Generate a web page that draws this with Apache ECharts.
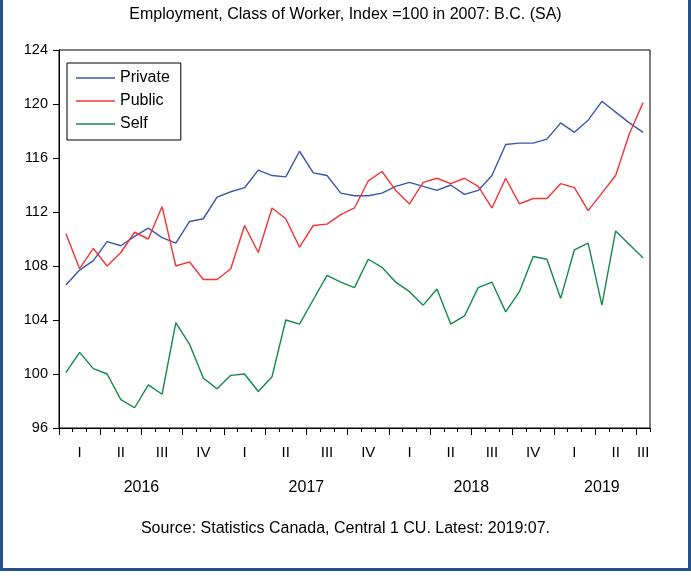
<!DOCTYPE html>
<html>
<head>
<meta charset="utf-8">
<script src="https://cdn.jsdelivr.net/npm/echarts@6/dist/echarts.min.js"></script>
<style>
html, body { margin: 0; padding: 0; background: #fff; }
#main { width: 691px; height: 579px; }
#frame { position: absolute; left: 0; top: 0; width: 685px; height: 568px;
  border-left: 3px solid #24518c; border-right: 3px solid #24518c; border-bottom: 3px solid #24518c; pointer-events: none; }
</style>
</head>
<body>
<div id="main"></div>
<div id="frame"></div>
<script>
// monthly, 2016:01 .. 2019:07
var months = [
  '2016:01','2016:02','2016:03','2016:04','2016:05','2016:06','2016:07','2016:08','2016:09','2016:10','2016:11','2016:12',
  '2017:01','2017:02','2017:03','2017:04','2017:05','2017:06','2017:07','2017:08','2017:09','2017:10','2017:11','2017:12',
  '2018:01','2018:02','2018:03','2018:04','2018:05','2018:06','2018:07','2018:08','2018:09','2018:10','2018:11','2018:12',
  '2019:01','2019:02','2019:03','2019:04','2019:05','2019:06','2019:07'
];
var privateIdx = [
  106.6,107.7,108.4,109.8,109.5,110.2,110.8,110.1,109.7,111.3,111.5,113.1,
  113.5,113.8,115.1,114.7,114.6,116.5,114.9,114.7,113.4,113.2,113.2,113.4,
  113.9,114.2,113.9,113.6,114.0,113.3,113.6,114.7,117.0,117.1,117.1,117.4,
  118.6,117.9,118.8,120.2,119.4,118.6,117.9
];
var publicIdx = [
  110.4,107.8,109.3,108.0,109.0,110.5,110.0,112.4,108.0,108.3,107.0,107.0,
  107.8,111.0,109.0,112.3,111.5,109.4,111.0,111.1,111.8,112.3,114.3,115.0,
  113.6,112.6,114.2,114.5,114.1,114.5,113.9,112.3,114.5,112.6,113.0,113.0,
  114.1,113.8,112.1,113.4,114.7,117.8,120.1
];
var selfIdx = [
  100.1,101.6,100.4,100.0,98.1,97.5,99.2,98.5,103.8,102.2,99.7,98.9,
  99.9,100.0,98.7,99.8,104.0,103.7,105.5,107.3,106.8,106.4,108.5,107.9,
  106.8,106.1,105.1,106.3,103.7,104.3,106.4,106.8,104.6,106.1,108.7,108.5,
  105.6,109.2,109.7,105.1,110.6,109.6,108.6
];
var quarterNames = ['I', 'II', 'III', 'IV'];
var yTicks = { min: 96, max: 124, step: 4 };
var title = 'Employment, Class of Worker, Index =100 in 2007: B.C. (SA)';
var source = 'Source: Statistics Canada, Central 1 CU. Latest: 2019:07.';

// quarter / year label positions (in month units) derived from the month list
function groups(keyOf) {
  var out = [], cur = null;
  months.forEach(function (m, i) {
    var k = keyOf(m);
    if (!cur || cur.key !== k) { cur = { key: k, first: i, last: i }; out.push(cur); }
    cur.last = i;
  });
  return out;
}
var quarters = groups(function (m) { return m.slice(0, 4) + 'Q' + Math.floor((+m.slice(5) - 1) / 3); });
var years = groups(function (m) { return m.slice(0, 4); });
var qPos = [], qText = {}, qBounds = [];
quarters.forEach(function (q) {
  var c = (q.first + q.last + 1) / 2;
  qPos.push(c);
  qText[c] = quarterNames[+q.key.slice(5)];
  qBounds.push(q.first);
});
var yPos = [], yText = {};
years.forEach(function (y) {
  var c = (y.first + y.last + 1) / 2;
  yPos.push(c);
  yText[c] = y.key;
});

var font = 'Liberation Sans, Arial, sans-serif';
var lineIcon = 'path://M0,0 H39 V1.5 H0 Z';
var chart = echarts.init(document.getElementById('main'));
chart.setOption({
  animation: false,
  textStyle: { fontFamily: font },
  title: [
    { text: title, left: 'center', top: 2, textStyle: { fontSize: 16, fontWeight: 'normal', color: '#000', fontFamily: font } },
    { text: source, left: 'center', top: 516, textStyle: { fontSize: 16, fontWeight: 'normal', color: '#000', fontFamily: font } }
  ],
  legend: {
    orient: 'vertical', left: 67, top: 63,
    padding: [7, 11, 8, 9], itemGap: 7, itemWidth: 39, itemHeight: 14,
    borderColor: '#000', borderWidth: 1, borderRadius: 0,
    textStyle: { fontSize: 16, lineHeight: 15, color: '#000', fontFamily: font },
    data: [
      { name: 'Private', icon: lineIcon },
      { name: 'Public', icon: lineIcon },
      { name: 'Self', icon: lineIcon }
    ]
  },
  grid: { left: 59, right: 41, top: 50, bottom: 151, show: true, borderColor: '#000', borderWidth: 1, outerBoundsMode: 'none' },
  xAxis: [
    {
      type: 'category', data: months, boundaryGap: true, position: 'bottom',
      axisLine: { lineStyle: { color: '#000', width: 1 } },
      axisTick: { show: true, interval: 0, inside: false, length: 4, lineStyle: { color: '#000' } },
      axisLabel: { show: false }, splitLine: { show: false }
    },
    {
      type: 'value', min: 0, max: months.length, position: 'bottom',
      axisLine: { show: false }, splitLine: { show: false },
      axisTick: { show: true, length: 7, customValues: qBounds, lineStyle: { color: '#000' } },
      axisLabel: { customValues: qPos, margin: 17, fontSize: 15, color: '#000', fontFamily: font,
        formatter: function (v) { return qText[v] || ''; } }
    },
    {
      type: 'value', min: 0, max: months.length, position: 'bottom',
      axisLine: { show: false }, splitLine: { show: false }, axisTick: { show: false },
      axisLabel: { customValues: yPos, margin: 52, fontSize: 16, color: '#000', fontFamily: font,
        formatter: function (v) { return yText[v] || ''; } }
    }
  ],
  yAxis: {
    type: 'value', min: yTicks.min, max: yTicks.max, interval: yTicks.step,
    axisLine: { show: true, lineStyle: { color: '#000' } },
    axisTick: { show: true, length: 6, lineStyle: { color: '#000' } },
    axisLabel: { margin: 11, fontSize: 14.5, color: '#000', fontFamily: font },
    splitLine: { show: false }
  },
  series: [
    { name: 'Private', type: 'line', data: privateIdx, symbol: 'none', lineStyle: { color: '#3a57aa', width: 1.4 }, itemStyle: { color: '#3a57aa' } },
    { name: 'Public', type: 'line', data: publicIdx, symbol: 'none', lineStyle: { color: '#f23434', width: 1.4 }, itemStyle: { color: '#f23434' } },
    { name: 'Self', type: 'line', data: selfIdx, symbol: 'none', lineStyle: { color: '#128a4c', width: 1.4 }, itemStyle: { color: '#128a4c' } }
  ]
});
</script>
</body>
</html>
